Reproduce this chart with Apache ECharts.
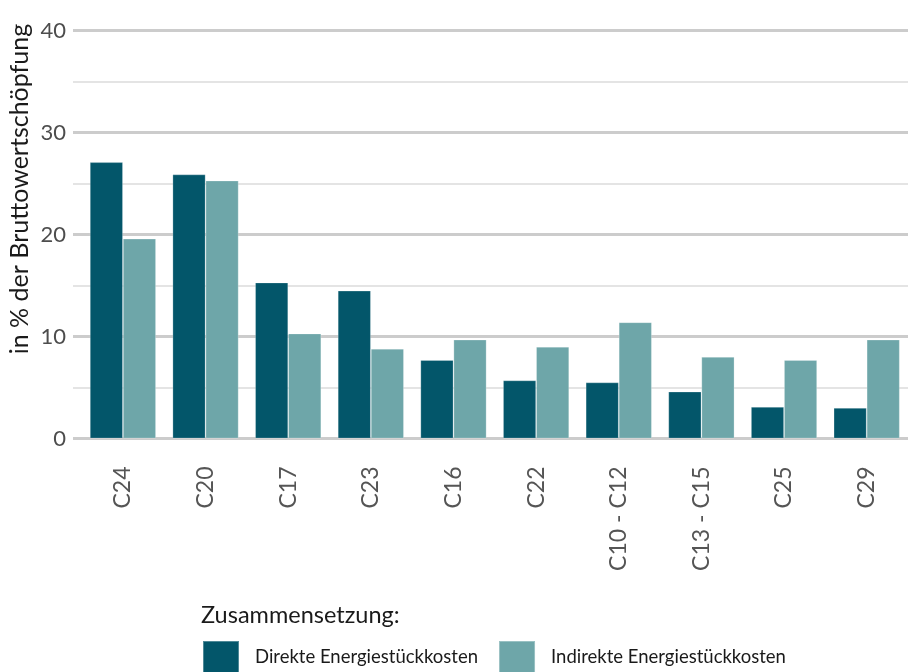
<!DOCTYPE html>
<html>
<head>
<meta charset="utf-8">
<script src="https://cdn.jsdelivr.net/npm/echarts@6/dist/echarts.min.js"></script>
<style>html,body{margin:0;padding:0;background:#fff}#c{width:908px;height:672px}</style>
</head>
<body>
<div id="c"></div>
<script>
const categories = ['C24', 'C20', 'C17', 'C23', 'C16', 'C22', 'C10 - C12', 'C13 - C15', 'C25', 'C29'];
const direkte = [27.1, 25.9, 15.3, 14.5, 7.7, 5.7, 5.5, 4.6, 3.1, 3.0];
const indirekte = [19.6, 25.3, 10.3, 8.8, 9.7, 9.0, 11.4, 8.0, 7.7, 9.7];
const yTicks = [0, 10, 20, 30, 40];
const seriesNames = ['Direkte Energiestückkosten', 'Indirekte Energiestückkosten'];
const legendTitle = 'Zusammensetzung:';
const yName = 'in % der Bruttowertschöpfung';

const FONT = 'Lato';
const chart = echarts.init(document.getElementById('c'), null, {renderer: 'canvas'});
chart.setOption({
  backgroundColor: '#ffffff',
  animation: false,
  textStyle: {fontFamily: FONT},
  title: {
    text: legendTitle, left: 201, top: 603, padding: 0,
    textStyle: {fontFamily: FONT, fontSize: 23.5, fontWeight: 'normal', color: '#1a1a1a'}
  },
  legend: {
    left: 202, top: 640, itemWidth: 36, itemHeight: 32, itemGap: 20, padding: 0,
    icon: 'rect',
    data: seriesNames,
    textStyle: {fontFamily: FONT, fontSize: 18.5, color: '#1a1a1a', padding: [8, 0, 0, 11]}
  },
  graphic: [{
    type: 'text', x: 20, y: 189, rotation: Math.PI / 2,
    style: {text: yName, fill: '#1a1a1a', font: '25px ' + FONT, align: 'center', verticalAlign: 'middle'}
  }],
  grid: [
    {left: 73, right: 0, top: 30.7, bottom: 233.5},
    {left: 81.6, width: 828.4, top: 30.7, bottom: 233.5}
  ],
  xAxis: [
    {type: 'value', gridIndex: 0, show: false, min: 0, max: 1},
    {
      type: 'category', gridIndex: 1, data: categories,
      axisLine: {show: false}, axisTick: {show: false},
      axisLabel: {rotate: 90, margin: 28, fontSize: 23, color: '#555555', fontFamily: FONT, interval: 0}
    }
  ],
  yAxis: [
    {
      type: 'value', gridIndex: 0, min: yTicks[0], max: yTicks[yTicks.length - 1], interval: 10,
      axisLine: {show: false}, axisTick: {show: false},
      axisLabel: {fontSize: 22, color: '#4d4d4d', margin: 7, fontFamily: FONT},
      splitLine: {show: true, lineStyle: {color: '#cccccc', width: 3}},
      minorTick: {show: false, splitNumber: 2},
      minorSplitLine: {show: true, lineStyle: {color: '#dcdcdc', width: 1.5}}
    },
    {
      type: 'value', gridIndex: 1, min: yTicks[0], max: yTicks[yTicks.length - 1], interval: 10,
      show: false, splitLine: {show: false}
    }
  ],
  series: [
    {
      name: seriesNames[0], type: 'bar', xAxisIndex: 1, yAxisIndex: 1, data: direkte,
      barGap: '0%', barCategoryGap: '20%',
      itemStyle: {color: '#03566a', borderColor: 'rgba(255,255,255,0.3)', borderWidth: 0.8}
    },
    {
      name: seriesNames[1], type: 'bar', xAxisIndex: 1, yAxisIndex: 1, data: indirekte,
      barGap: '0%', barCategoryGap: '20%',
      itemStyle: {color: '#6ea6a9', borderColor: 'rgba(255,255,255,0.3)', borderWidth: 0.8}
    }
  ]
});
</script>
</body>
</html>
